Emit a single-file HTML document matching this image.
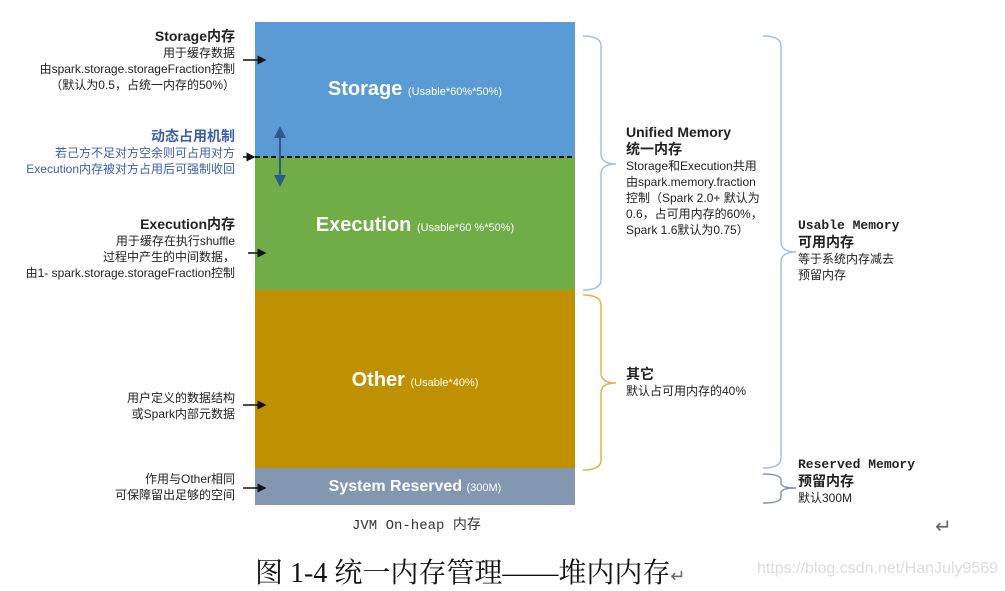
<!DOCTYPE html>
<html><head><meta charset="utf-8"><style>
body{margin:0;width:1005px;height:587px;background:#fff;position:relative;overflow:hidden;font-family:"Liberation Sans","Noto Sans CJK SC",sans-serif;}
.a{position:absolute;white-space:nowrap;}
.l{text-align:right;font-size:12px;line-height:16px;color:#222;}
.b{font-weight:bold;font-size:14px;}
.blk{position:absolute;left:255px;width:320px;color:#fff;text-align:center;font-weight:bold;}
.blk small{font-weight:normal;font-size:11px;}
.r{font-size:12px;line-height:16px;color:#222;}
.mono{font-family:"Liberation Mono","Noto Sans CJK SC",monospace;font-weight:bold;font-size:13px;}
</style></head><body>
<div class="blk" style="top:25px;height:135px;background:#5b9bd5;line-height:135px;font-size:20px;margin-top:-3px;">Storage <small>(Usable*60%*50%)</small></div>
<div class="blk" style="top:157px;height:133px;background:#70ad47;line-height:136px;font-size:20px;">Execution <small>(Usable*60 %*50%)</small></div>
<div class="blk" style="top:290px;height:178px;background:#bf9000;line-height:180px;font-size:20px;">Other <small>(Usable*40%)</small></div>
<div class="blk" style="top:468px;height:37px;background:#8497b0;line-height:37px;font-size:16px;">System Reserved <small>(300M)</small></div>

<div class="a l" style="right:770px;top:28px;"><span class="b">Storage内存</span><br>用于缓存数据<br>由spark.storage.storageFraction控制<br>（默认为0.5，占统一内存的50%）</div>
<div class="a l" style="right:770px;top:128px;color:#3b5fa8;"><span class="b">动态占用机制</span><br>若己方不足对方空余则可占用对方<br>Execution内存被对方占用后可强制收回</div>
<div class="a l" style="right:770px;top:216px;"><span class="b">Execution内存</span><br>用于缓存在执行shuffle<br>过程中产生的中间数据，<br>由1- spark.storage.storageFraction控制</div>
<div class="a l" style="right:770px;top:390px;">用户定义的数据结构<br>或Spark内部元数据</div>
<div class="a l" style="right:770px;top:471px;">作用与Other相同<br>可保障留出足够的空间</div>

<div class="a r" style="left:626px;top:124px;"><span class="b">Unified Memory<br>统一内存</span><br>Storage和Execution共用<br>由spark.memory.fraction<br>控制（Spark 2.0+ 默认为<br>0.6，占可用内存的60%，<br>Spark 1.6默认为0.75）</div>
<div class="a r" style="left:626px;top:366px;"><span class="b">其它</span><br>默认占可用内存的40%</div>
<div class="a r" style="left:798px;top:217px;"><span class="mono">Usable Memory</span><br><span class="b">可用内存</span><br>等于系统内存减去<br>预留内存</div>
<div class="a r" style="left:798px;top:456px;"><span class="mono">Reserved Memory</span><br><span class="b">预留内存</span><br>默认300M</div>
<div class="a" style="left:352px;top:514px;font-family:'Liberation Mono','Noto Sans CJK SC',monospace;font-size:14px;color:#333;">JVM On-heap 内存</div>
<div class="a" style="left:935px;top:514px;font-size:20px;color:#666;">↵</div>
<div class="a" style="left:255px;top:551px;font-family:'Liberation Serif','Noto Serif CJK SC',serif;font-size:28px;color:#111;">图 1-4  统一内存管理——堆内内存<span style="font-size:18px;color:#666">↵</span></div>
<div class="a" style="left:757px;top:560px;font-size:16px;color:#ddd;">https://blog.csdn.net/HanJuly9569</div>

<svg class="a" style="left:0;top:0" width="1005" height="587">
<defs><marker id="ar" markerWidth="6" markerHeight="6" refX="5" refY="3" orient="auto"><path d="M0,0L6,3L0,6z" fill="#111"/></marker>
<marker id="bu" markerWidth="6" markerHeight="6" refX="5" refY="3" orient="auto"><path d="M0,0L6,3L0,6z" fill="#2e5a8a"/></marker></defs>
<line x1="255" y1="157" x2="575" y2="157" stroke="#111" stroke-width="2" stroke-dasharray="5,3"/>
<line x1="280" y1="140" x2="280" y2="128" stroke="#2e5a8a" stroke-width="2" marker-end="url(#bu)"/>
<line x1="280" y1="170" x2="280" y2="185" stroke="#2e5a8a" stroke-width="2" marker-end="url(#bu)"/>
<line x1="280" y1="130" x2="280" y2="183" stroke="#2e5a8a" stroke-width="2"/>
<g stroke="#111" stroke-width="1.5" fill="none">
<line x1="243" y1="60" x2="265" y2="60" marker-end="url(#ar)"/>
<line x1="243" y1="157" x2="254" y2="157" marker-end="url(#ar)"/>
<line x1="248" y1="253" x2="265" y2="253" marker-end="url(#ar)"/>
<line x1="243" y1="405" x2="265" y2="405" marker-end="url(#ar)"/>
<line x1="243" y1="488" x2="265" y2="488" marker-end="url(#ar)"/>
</g>
<g fill="none" stroke-width="1.5">
<path d="M583,36 Q601,36 601,46 V154 Q601,164 616,164 Q601,164 601,174 V280 Q601,290 583,290" stroke="#9dc3e6"/>
<path d="M583,295 Q601,295 601,305 V373 Q601,383 616,383 Q601,383 601,393 V460 Q601,470 583,470" stroke="#e0b44a"/>
<path d="M763,36 Q781,36 781,46 V242 Q781,252 796,252 Q781,252 781,262 V458 Q781,468 763,468" stroke="#9dc3e6"/>
<path d="M763,474 Q781,474 781,480 V483 Q781,488 796,488 Q781,488 781,493 V497 Q781,503 763,503" stroke="#8497b0"/>
</g>
</svg>
</body></html>
